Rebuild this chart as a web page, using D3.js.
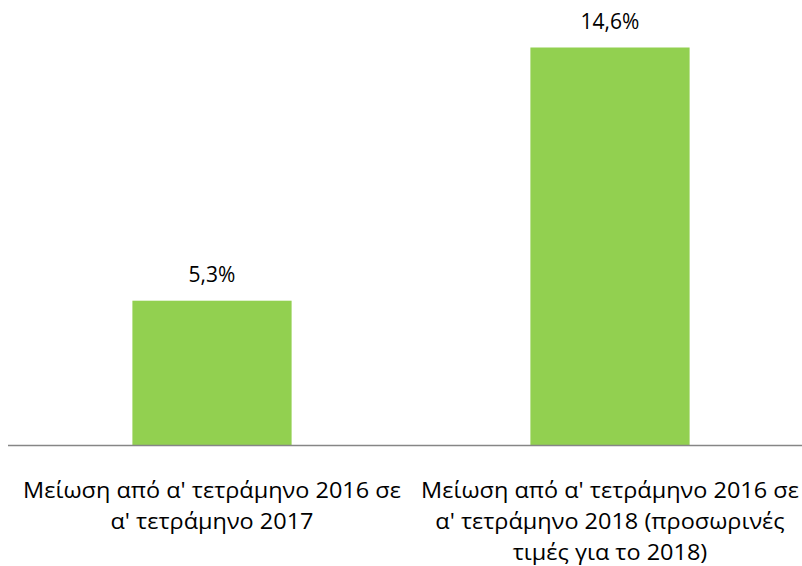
<!DOCTYPE html>
<html>
<head>
<meta charset="utf-8">
<script src="https://cdn.jsdelivr.net/npm/d3@7"></script>
<style>
  body { margin: 0; background: #fff; }
  svg text { font-family: "Open Sans", sans-serif; fill: #000; }
</style>
</head>
<body>
<div id="chart"></div>
<script>
const categories = ["c2017", "c2018"];
const categoryLines = [
    ["Μείωση από α' τετράμηνο 2016 σε", "α' τετράμηνο 2017"],
    ["Μείωση από α' τετράμηνο 2016 σε", "α' τετράμηνο 2018 (προσωρινές", "τιμές για το 2018)"]
];
const values = [5.3, 14.6];
const valueLabels = ["5,3%", "14,6%"];

const width = 802, height = 566;
const baseY = 445;
const labelWidth = 378; // width of the first label line in the original

const svg = d3.select("#chart").append("svg")
    .attr("width", width)
    .attr("height", height);

const x = d3.scaleBand()
    .domain(categories)
    .range([13, 809])
    .paddingInner(0.6)
    .paddingOuter(0.3);

const y = d3.scaleLinear()
    .domain([0, 14.6])
    .range([baseY, 47.5]);

// bars
svg.selectAll("rect.bar")
    .data(values)
    .enter().append("rect")
    .attr("class", "bar")
    .attr("x", (d, i) => x(categories[i]))
    .attr("width", x.bandwidth())
    .attr("y", d => y(d))
    .attr("height", d => y(0) - y(d))
    .attr("fill", "#92D050");

// baseline
svg.append("line")
    .attr("x1", 8).attr("x2", width)
    .attr("y1", y(0) + 0.5).attr("y2", y(0) + 0.5)
    .attr("stroke", "#868686")
    .attr("stroke-width", 1.5);

// value labels
svg.selectAll("text.val")
    .data(values)
    .enter().append("text")
    .attr("class", "val")
    .attr("x", (d, i) => x(categories[i]) + x.bandwidth() / 2)
    .attr("y", d => y(d) - 19)
    .attr("text-anchor", "middle")
    .style("font-size", "21px")
    .text((d, i) => valueLabels[i]);

// category labels, fitted to the width of the original font
categoryLines.forEach((lines, i) => {
    const cx = x(categories[i]) + x.bandwidth() / 2;
    const t = svg.append("text")
        .attr("text-anchor", "middle")
        .style("font-size", "22.5px")
        .attr("y", 498);
    const spans = [];
    lines.forEach((ln, j) => {
        spans.push(t.append("tspan")
            .attr("x", 0)
            .attr("dy", j === 0 ? 0 : 30.8)
            .text(ln));
    });
    const k = labelWidth / spans[0].node().getComputedTextLength();
    t.attr("transform", `translate(${cx},0) scale(${k},1)`);
});
</script>
</body>
</html>
